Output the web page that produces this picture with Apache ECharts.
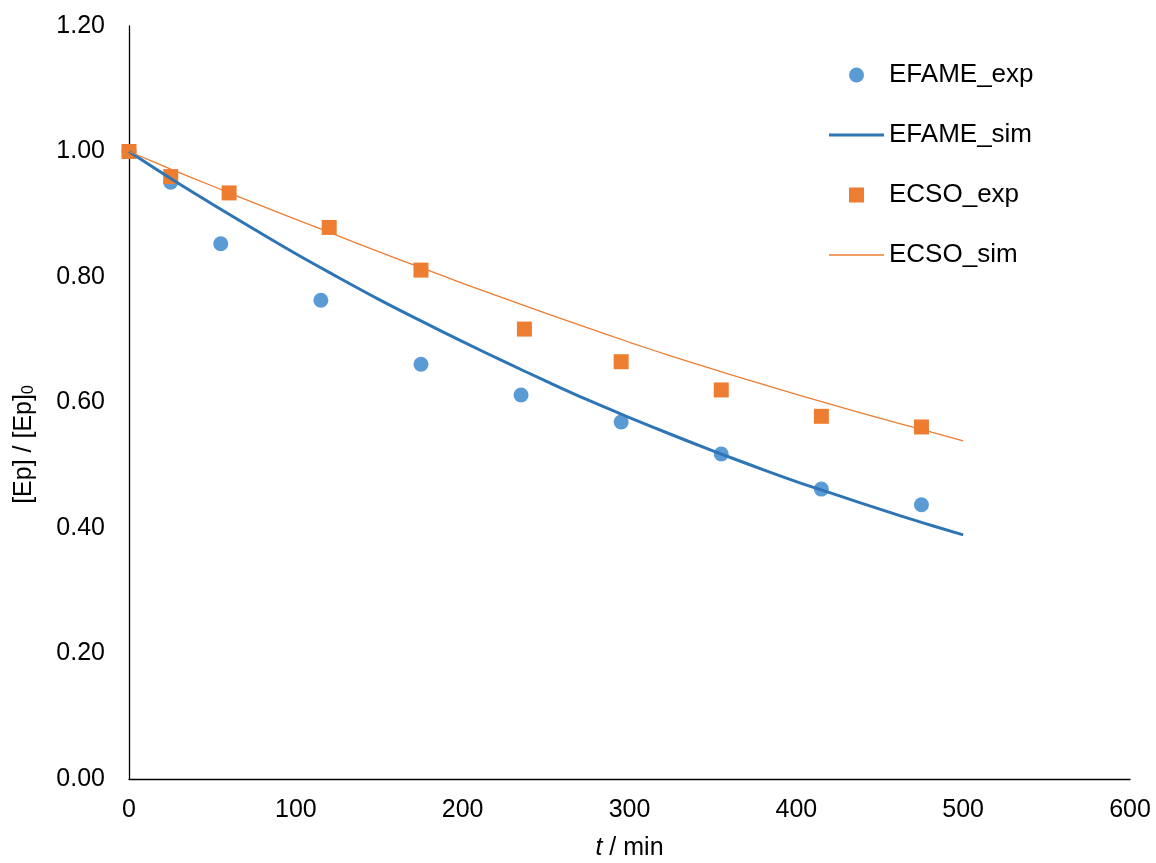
<!DOCTYPE html>
<html>
<head>
<meta charset="utf-8">
<script src="https://cdn.jsdelivr.net/npm/echarts@6/dist/echarts.min.js"></script>
<style>html,body{margin:0;padding:0;background:#fff}#c{width:1156px;height:863px}</style>
</head>
<body>
<div id="c"></div>
<script>
// Experimental data
const efameExpT = [0, 25, 55, 115, 175, 235, 295, 355, 415, 475];
const efameExpY = [1.000, 0.951, 0.853, 0.763, 0.661, 0.612, 0.569, 0.518, 0.462, 0.437];
const ecsoExpT = [0, 25, 60, 120, 175, 237, 295, 355, 415, 475];
const ecsoExpY = [1.000, 0.960, 0.934, 0.879, 0.811, 0.717, 0.665, 0.620, 0.578, 0.561];
// Simulated curves
const simT = [0, 25, 50, 75, 100, 125, 150, 175, 200, 225, 250, 275, 300, 325, 350, 375, 400, 425, 450, 475, 500];
const efameSimY = [1.000, 0.957, 0.916, 0.876, 0.837, 0.800, 0.764, 0.730, 0.697, 0.665, 0.634, 0.604, 0.576, 0.549, 0.523, 0.498, 0.474, 0.452, 0.430, 0.409, 0.389];
const ecsoSimY = [1.000, 0.972, 0.945, 0.918, 0.892, 0.866, 0.840, 0.815, 0.790, 0.766, 0.742, 0.719, 0.696, 0.674, 0.653, 0.633, 0.613, 0.594, 0.575, 0.557, 0.539];
const seriesNames = ['EFAME_exp', 'EFAME_sim', 'ECSO_exp', 'ECSO_sim'];

const zip = (a, b) => a.map((v, i) => [v, b[i]]);
const FONT = 'Liberation Sans, Arial, sans-serif';
const FS = 25;
const squarePath = 'path://M0,0L10,0L10,10L0,10Z';
const thickLine = 'path://M0,0L55,0L55,3L0,3Z';
const thinLine = 'path://M0,0L55,0L55,1.3L0,1.3Z';

const chart = echarts.init(document.getElementById('c'), null, {renderer: 'canvas'});
chart.setOption({
  animation: false,
  backgroundColor: '#ffffff',
  textStyle: {fontFamily: FONT},
  grid: {left: 129, right: 26, top: 26, bottom: 84, containLabel: false, outerBoundsMode: 'none'},
  legend: {
    orient: 'vertical',
    left: 829,
    top: 62,
    padding: 0,
    itemWidth: 55,
    itemHeight: 15,
    itemGap: 34,
    symbolKeepAspect: true,
    itemStyle: {borderWidth: 0},
    textStyle: {fontSize: 26, color: '#000', fontFamily: FONT, lineHeight: 25},
    data: [
      {name: seriesNames[0], icon: 'circle'},
      {name: seriesNames[1], icon: thickLine},
      {name: seriesNames[2], icon: squarePath},
      {name: seriesNames[3], icon: thinLine}
    ]
  },
  xAxis: {
    type: 'value', min: 0, max: 600, interval: 100,
    name: '{i|t} / min', nameLocation: 'middle', nameGap: 57,
    nameTextStyle: {fontSize: FS, color: '#000', fontFamily: FONT,
      rich: {i: {fontStyle: 'italic', fontSize: FS, color: '#000', fontFamily: FONT}}},
    axisLine: {show: true, onZero: false, lineStyle: {color: '#000', width: 1.3}},
    axisTick: {show: false},
    splitLine: {show: false},
    axisLabel: {fontSize: FS, color: '#000', margin: 19, fontFamily: FONT}
  },
  yAxis: {
    type: 'value', min: 0, max: 1.2, interval: 0.2,
    name: '{a|[Ep] / [Ep]}{s|0}', nameLocation: 'middle', nameGap: 92, nameRotate: 90,
    nameTextStyle: {fontSize: FS, color: '#000', fontFamily: FONT, padding: [0, 84, 0, 0],
      rich: {a: {fontSize: FS, color: '#000', fontFamily: FONT},
             s: {fontSize: 16, color: '#000', fontFamily: FONT, verticalAlign: 'bottom', padding: [10, 0, 0, 0]}}},
    axisLine: {show: true, onZero: false, lineStyle: {color: '#000', width: 1.3}},
    axisTick: {show: false},
    splitLine: {show: false},
    axisLabel: {fontSize: FS, color: '#000', margin: 24, fontFamily: FONT,
      formatter: v => v.toFixed(2)}
  },
  series: [
    {name: seriesNames[0], type: 'scatter', data: zip(efameExpT, efameExpY),
     symbol: 'circle', symbolSize: 15, itemStyle: {color: '#5B9BD5', opacity: 1}},
    {name: seriesNames[1], type: 'line', data: zip(simT, efameSimY), smooth: 0.4,
     symbol: 'none', showSymbol: false, lineStyle: {color: '#2E75B6', width: 3}, itemStyle: {color: '#2E75B6'}},
    {name: seriesNames[2], type: 'scatter', data: zip(ecsoExpT, ecsoExpY),
     symbol: 'rect', symbolSize: 15, itemStyle: {color: '#ED7D31', opacity: 1}},
    {name: seriesNames[3], type: 'line', data: zip(simT, ecsoSimY), smooth: 0.4,
     symbol: 'none', showSymbol: false, lineStyle: {color: '#ED7D31', width: 1.3}, itemStyle: {color: '#ED7D31'}}
  ]
});
</script>
</body>
</html>
